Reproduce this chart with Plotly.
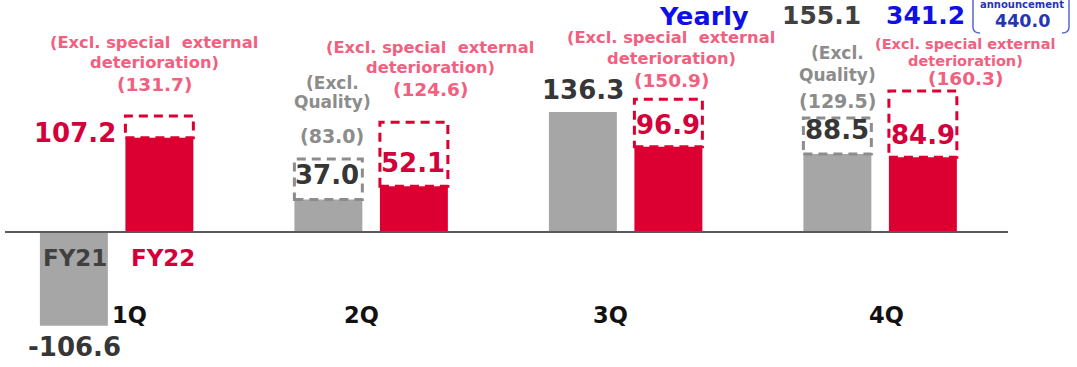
import plotly.graph_objects as go

# ---------------- data ----------------
quarters = ["1Q", "2Q", "3Q", "4Q"]
fy21 = [-106.6, 37.0, 136.3, 88.5]
fy22 = [107.2, 52.1, 96.9, 84.9]
fy21_excl_quality = [None, 83.0, None, 129.5]
fy22_excl_special = [131.7, 124.6, 150.9, 160.3]
yearly_fy21 = 155.1
yearly_fy22 = 341.2
announcement = 440.0

# ---------------- layout helpers ----------------
W, H = 1077, 367
GROUP_PX = 254.5          # pixels between quarter groups
FIRST_CENTER_PX = 116.5   # pixel x of first group centre
BASE_PX = 232             # pixel y of zero line
PX_PER_UNIT = 0.88

BAR_W = 0.267
OFF21 = -0.301
OFF22 = 0.035

GRAY = "#A6A6A6"
RED = "#DC0032"
RED_TXT = "#D4003A"
PINK = "#F2607F"
GRAY_TXT = "#8C8C8C"
DARK = "#363636"
BLUE = "#0F0FE6"
FONT = "DejaVu Sans"


def px(x):
    return x / W


def py(y):
    return 1 - y / H


x_idx = list(range(len(quarters)))

fig = go.Figure()
fig.add_trace(go.Bar(x=x_idx, y=fy21, name="FY21", marker_color=GRAY,
                     width=[BAR_W] * 4, offset=[OFF21] * 4, marker_line_width=0))
fig.add_trace(go.Bar(x=x_idx, y=fy22, name="FY22", marker_color=RED,
                     width=[BAR_W] * 4, offset=[OFF22] * 4, marker_line_width=0))

shapes = []
# zero line
shapes.append(dict(type="line", xref="paper", yref="y", x0=px(5), x1=px(1008), y0=0, y1=0,
                   line=dict(color="#595959", width=2)))
# dashed "excl." boxes
for i, v in enumerate(fy21_excl_quality):
    if v is not None:
        shapes.append(dict(type="rect", xref="x", yref="y", x0=i + OFF21, x1=i + OFF21 + BAR_W,
                           y0=fy21[i], y1=v, line=dict(color="#8C8C8C", width=3, dash="9px,6px"),
                           fillcolor="rgba(0,0,0,0)"))
for i, v in enumerate(fy22_excl_special):
    shapes.append(dict(type="rect", xref="x", yref="y", x0=i + OFF22, x1=i + OFF22 + BAR_W,
                       y0=fy22[i], y1=v, line=dict(color=RED, width=3, dash="9px,6px"),
                       fillcolor="rgba(0,0,0,0)"))
# announcement brackets
bc = "#5A6AD2"
shapes.append(dict(type="path", xref="paper", yref="paper",
                   path=f"M {px(973)},{py(-4)} L {px(973)},{py(27)} Q {px(973)},{py(33)} {px(980)},{py(33)}",
                   line=dict(color=bc, width=1.5)))
shapes.append(dict(type="path", xref="paper", yref="paper",
                   path=f"M {px(1069)},{py(-4)} L {px(1069)},{py(27)} Q {px(1069)},{py(33)} {px(1062)},{py(33)}",
                   line=dict(color=bc, width=1.5)))

ann = []


def T(text, x, y, size, color, anchor="center"):
    ann.append(dict(text=text, x=px(x), y=py(y), xref="paper", yref="paper",
                    xanchor=anchor, yanchor="middle", showarrow=False,
                    font=dict(family=FONT, size=size, color=color, weight="bold")))


EXT = ["(Excl. special  external", "deterioration)"]
EXT4 = ["(Excl. special external", "deterioration)"]
# pink annotations per quarter: (centre x, first line y, line step, value y, size, lines)
pink_pos = [(154, 43, 20, 85, 16.3, EXT), (430, 47, 20, 89, 16.3, EXT),
            (671, 38, 20, 80, 16.3, EXT), (965, 44, 17, 79, 14.5, EXT4)]
for i, (cx, y0, step, vy, fs, lines) in enumerate(pink_pos):
    T(lines[0], cx, y0, fs, PINK)
    T(lines[1], cx, y0 + step, fs, PINK)
    T(f"({fy22_excl_special[i]:.1f})", cx, vy, 18.5, PINK)

# gray "Excl. Quality" annotations
gray_pos = {1: (332, 83, 102, 136), 3: (838, 53, 75, 101)}
for i, (cx, y1, y2, vy) in gray_pos.items():
    T("(Excl.", cx, y1, 17, GRAY_TXT)
    T("Quality)", cx, y2, 17, GRAY_TXT)
    T(f"({fy21_excl_quality[i]:.1f})", cx, vy, 19, GRAY_TXT)

# value labels
fy21_lab = [(74, 347), (327, 175), (583, 90), (837, 130)]
fy22_lab = [(75, 133), (413, 163), (668, 125), (923, 135)]
for i, (x, y) in enumerate(fy21_lab):
    T(f"{fy21[i]:.1f}", x, y, 26, DARK)
for i, (x, y) in enumerate(fy22_lab):
    T(f"{fy22[i]:.1f}", x, y, 26, RED_TXT)

# quarter labels
q_pos = [129, 361, 611, 886]
for q, x in zip(quarters, q_pos):
    T(q, x, 315, 22.5, "#111111")

# legend-ish labels
T("FY21", 75, 258, 23, "#404040")
T("FY22", 163, 258, 23, RED_TXT)

# yearly
T("Yearly", 704, 16, 25.5, BLUE)
T(f"{yearly_fy21:.1f}", 821, 16, 25, "#404040")
T(f"{yearly_fy22:.1f}", 925, 16, 25, BLUE)
T("announcement", 1022, 5, 10, "#2535B5")
T(f"{announcement:.1f}", 1022, 21, 17.5, "#2535B5")

x_lo = -FIRST_CENTER_PX / GROUP_PX
x_hi = (W - FIRST_CENTER_PX) / GROUP_PX
y_hi = BASE_PX / PX_PER_UNIT
y_lo = -(H - BASE_PX) / PX_PER_UNIT

fig.update_layout(
    width=W, height=H, autosize=False,
    margin=dict(l=0, r=0, t=0, b=0),
    paper_bgcolor="white", plot_bgcolor="white",
    showlegend=False,
    barmode="overlay",
    xaxis=dict(range=[x_lo, x_hi], visible=False, fixedrange=True),
    yaxis=dict(range=[y_lo, y_hi], visible=False, fixedrange=True),
    shapes=shapes, annotations=ann,
)

fig.write_html("out.html", config={"displayModeBar": False})
